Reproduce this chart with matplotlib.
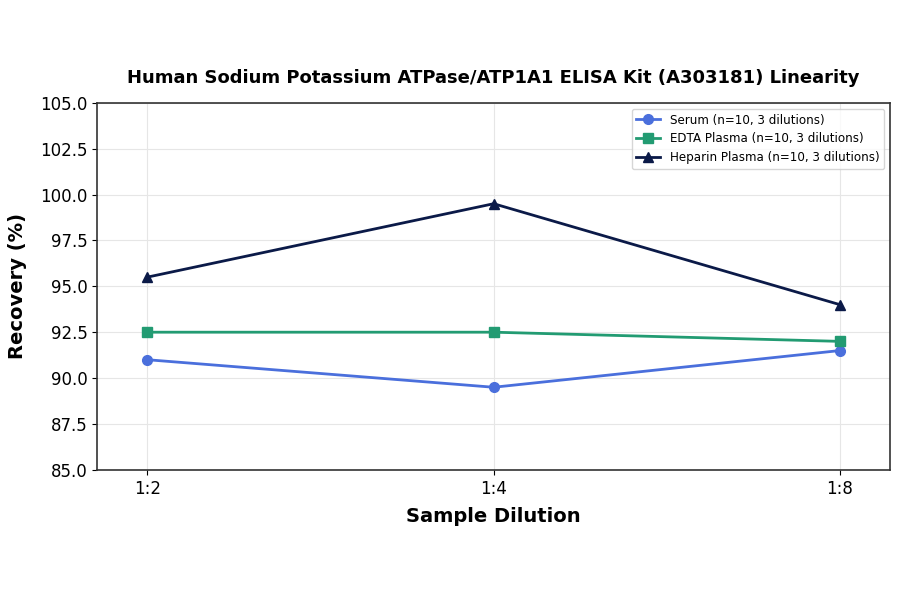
import matplotlib
matplotlib.use("Agg")
import matplotlib.pyplot as plt

dilutions = ["1:2", "1:4", "1:8"]
serum = [91.0, 89.5, 91.5]
edta = [92.5, 92.5, 92.0]
heparin = [95.5, 99.5, 94.0]

fig, ax = plt.subplots(figsize=(9, 5.94), dpi=100)
x = range(len(dilutions))

ax.plot(x, serum, marker="o", color="#4a6fdc", linewidth=2, markersize=7,
        label="Serum (n=10, 3 dilutions)")
ax.plot(x, edta, marker="s", color="#229b72", linewidth=2, markersize=7,
        label="EDTA Plasma (n=10, 3 dilutions)")
ax.plot(x, heparin, marker="^", color="#0b1a48", linewidth=2, markersize=7,
        label="Heparin Plasma (n=10, 3 dilutions)")

ax.set_xticks(list(x))
ax.set_xticklabels(dilutions)
ax.set_ylim(85, 105)
ax.set_xlim(-0.145, 2.145)
ax.tick_params(labelsize=12)
ax.grid(True, color="#e6e6e6", linewidth=0.8)
ax.set_axisbelow(True)
for s in ax.spines.values():
    s.set_color("#333333")
    s.set_linewidth(1.2)

ax.set_xlabel("Sample Dilution", fontsize=14, fontweight="bold", labelpad=7)
ax.set_ylabel("Recovery (%)", fontsize=14, fontweight="bold", labelpad=9)
ax.set_title("Human Sodium Potassium ATPase/ATP1A1 ELISA Kit (A303181) Linearity",
             fontsize=13, fontweight="bold", pad=14)
ax.legend(loc="upper right", fontsize=8.6)

plt.subplots_adjust(left=0.108, right=0.989, top=0.827, bottom=0.209)
plt.savefig("out.png")
